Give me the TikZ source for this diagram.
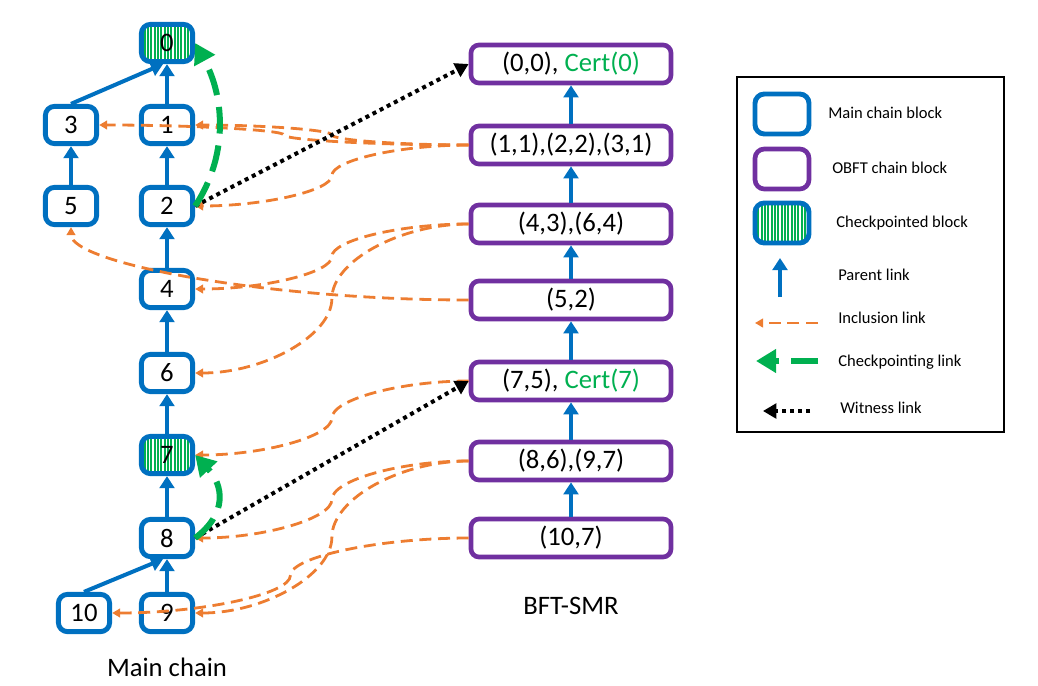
\documentclass[tikz,border=0pt]{standalone}
\usepackage{fontspec}
\setmainfont{Carlito}
\usetikzlibrary{arrows.meta,calc}
\definecolor{mblue}{RGB}{0,112,192}
\definecolor{mpurple}{RGB}{112,48,160}
\definecolor{mgreen}{RGB}{0,176,80}
\definecolor{morange}{RGB}{237,125,49}
\newcommand\inclink[2]{\draw[incl] let \p1=(#1), \p2=(#2) in (\p1) .. controls ({(3*\x1+\x2)/4},\y1) and ({(\x1+\x2)/2},{(3*\y1+\y2)/4}) .. ({(\x1+\x2)/2},{(\y1+\y2)/2}) .. controls ({(\x1+\x2)/2},{(\y1+3*\y2)/4}) and ({(\x1+3*\x2)/4},\y2) .. (\p2);}
\begin{document}
\begin{tikzpicture}[x=0.75pt,y=-0.75pt,
  big/.style={font=\fontsize{20}{24}\selectfont},
  small/.style={font=\fontsize{12.4}{15}\selectfont},
  mblk/.style={draw=mblue, line width=3.7pt, rounded corners=7pt, minimum width=38.5pt, minimum height=28pt, inner sep=0pt, fill=white, big},
  stripes/.style={path picture={\foreach \k in {0,...,20}{\draw[mgreen,line width=1.3pt] ([xshift={\k*2.5pt}]path picture bounding box.south west) -- ([xshift={\k*2.5pt}]path picture bounding box.north west);}}},
  ckpt/.style={mblk, stripes},
  obox/.style={draw=mpurple, line width=3.5pt, rounded corners=6pt, minimum width=150pt, minimum height=28.5pt, inner sep=0pt, fill=white, big},
  parent/.style={draw=mblue, line width=3pt, -{Triangle[length=9pt,width=11pt]}},
  incl/.style={draw=morange, line width=2.1pt, dash pattern=on 9pt off 5pt, -{Triangle[length=6pt,width=6.5pt]}},
  ckl/.style={draw=mgreen, line width=4.5pt, dash pattern=on 20pt off 9pt, -{Triangle[length=15pt,width=17pt]}},
  wit/.style={draw=black, line width=3pt, dash pattern=on 3pt off 3pt, -{Triangle[length=10pt,width=11pt]}},
  lgtext/.style={small, anchor=west, inner sep=0pt}
]
\useasboundingbox (0,0) rectangle (1038,685);

% main chain
\node[ckpt] (m0) at (167,43) {0};
\node[mblk] (m1) at (167,125) {1};
\node[mblk] (m3) at (71,125) {3};
\node[mblk] (m2) at (167,206) {2};
\node[mblk] (m5) at (71,206) {5};
\node[mblk] (m4) at (167,289) {4};
\node[mblk] (m6) at (167,373) {6};
\node[ckpt] (m7) at (167,455) {7};
\node[mblk] (m8) at (167,538) {8};
\node[mblk] (m9) at (167,613) {9};
\node[mblk] (m10) at (84,613) {10};

% OBFT chain
\node[obox] (b0) at (571,64) {(0,0), \textcolor{mgreen}{Cert(0)}};
\node[obox] (b1) at (571,145) {(1,1),(2,2),(3,1)};
\node[obox] (b2) at (571,224) {(4,3),(6,4)};
\node[obox] (b3) at (571,300) {(5,2)};
\node[obox] (b4) at (571,381) {(7,5), \textcolor{mgreen}{Cert(7)}};
\node[obox] (b5) at (571,461) {(8,6),(9,7)};
\node[obox] (b6) at (571,538) {(10,7)};

\node[big] (lmain) at (167,667) {Main chain};
\node[big] (lbft) at (571,606) {BFT-SMR};

% parent links
\draw[parent] (m1) -- (m0);
\draw[parent] (m2) -- (m1);
\draw[parent] (m4) -- (m2);
\draw[parent] (m6) -- (m4);
\draw[parent] (m7) -- (m6);
\draw[parent] (m8) -- (m7);
\draw[parent] (m9) -- (m8);
\draw[parent] (m5) -- (m3);
\draw[parent] (m3.north) -- ([xshift=-3pt]m0.south);
\draw[parent] (m10.north) -- ([xshift=-3pt]m8.south);
\draw[parent] (b1) -- (b0);
\draw[parent] (b2) -- (b1);
\draw[parent] (b3) -- (b2);
\draw[parent] (b4) -- (b3);
\draw[parent] (b5) -- (b4);
\draw[parent] (b6) -- (b5);

% inclusion links
\inclink{b1.west}{m1.east}
\inclink{b1.west}{m3.east}
\inclink{b1.west}{m2.east}
\inclink{b2.west}{m4.east}
\inclink{b2.west}{m6.east}
\draw[incl] let \p1=(b3.west), \p2=(m5.south) in (\p1) .. controls ({(\x1+\x2)/2},\y1) and (\x2,{(\y1+\y2)/2}) .. (\p2);
\inclink{b4.west}{m7.east}
\inclink{b5.west}{m8.east}
\inclink{b5.west}{m9.east}
\inclink{b6.west}{m10.east}

% witness links
\draw[wit] (m2.east) -- (b0.west);
\draw[wit] (m8.east) -- (b4.west);

% checkpointing links
\draw[ckl] (m2.east) .. controls +(33,-50) and +(30,55) .. (m0.east);
\draw[ckl] (m8.east) .. controls +(33,-25) and +(28,30) .. (m7.east);

% legend
\draw[line width=1.1pt] (737,77) rectangle (1004,432);
\node[mblk, minimum width=40.5pt, minimum height=30pt] (lg1) at (782,114) {};
\node[obox, minimum width=40.5pt, minimum height=30pt, rounded corners=7pt] (lg2) at (782,169) {};
\node[ckpt, minimum width=40.5pt, minimum height=30pt] (lg3) at (782,223) {};
\coordinate (pa1) at (780,297); \coordinate (pa2) at (780,258);
\coordinate (in1) at (818,323); \coordinate (in2) at (755,323);
\coordinate (ck1) at (818,361); \coordinate (ck2) at (756,361);
\coordinate (wi1) at (810,411); \coordinate (wi2) at (763,411);
\draw[parent] (pa1) -- (pa2);
\draw[incl] (in1) -- (in2);
\draw[ckl] (ck1) -- (ck2);
\draw[wit] (wi1) -- (wi2);
\node[lgtext] (t1) at (828,113) {Main chain block};
\node[lgtext] (t2) at (832,168) {OBFT chain block};
\node[lgtext] (t3) at (836,223) {Checkpointed block};
\node[lgtext] (t4) at (838,275) {Parent link};
\node[lgtext] (t5) at (838,318) {Inclusion link};
\node[lgtext] (t6) at (838,362) {Checkpointing link};
\node[lgtext] (t7) at (840,408) {Witness link};
\end{tikzpicture}
\end{document}
